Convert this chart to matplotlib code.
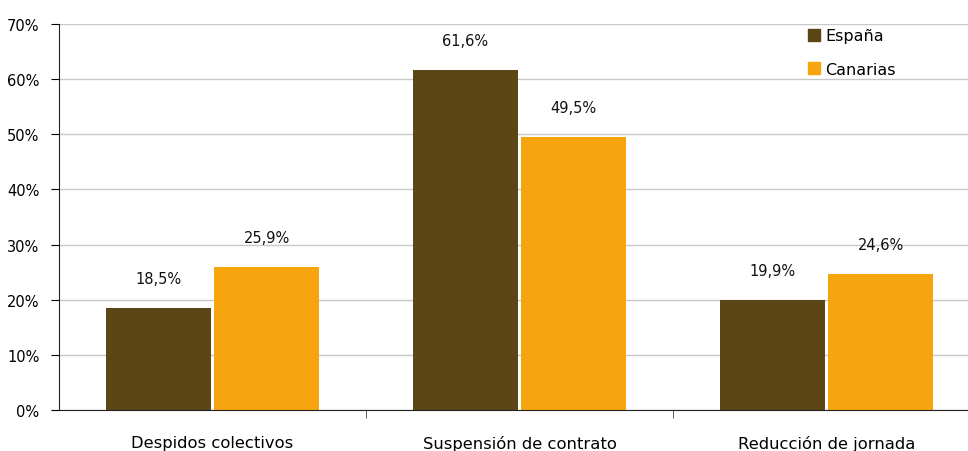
import matplotlib
matplotlib.use("Agg")
import matplotlib.pyplot as plt
from matplotlib.patches import Patch
import numpy as np

categories = ["Despidos colectivos", "Suspensión de contrato", "Reducción de jornada"]
espana = [18.5, 61.6, 19.9]
canarias = [25.9, 49.5, 24.6]
series_names = ["España", "Canarias"]
colors = ["#5C4616", "#F6A50E"]

plt.rcParams['font.family'] = ['DejaVu Sans']
fig = plt.figure(figsize=(9.68, 4.52), dpi=100)
ax = fig.add_axes([59/968, 1-411/452, (980-59)/968, 386/452])

x = np.arange(len(categories))
w = 0.34
gap = 0.006
b1 = ax.bar(x - w/2 - gap, espana, w, color=colors[0])
b2 = ax.bar(x + w/2 + gap, canarias, w, color=colors[1])

for bars, vals in ((b1, espana), (b2, canarias)):
    for r, v in zip(bars, vals):
        ax.annotate(f"{v:.1f}%".replace(".", ","), (r.get_x()+r.get_width()/2, v),
                    xytext=(0, 16), textcoords="offset points", ha="center", va="bottom",
                    fontsize=10.5, color="#111111")

ax.set_xlim(-0.5, 2.5)
ax.set_ylim(0, 70)
ax.set_yticks(range(0, 71, 10))
ax.set_yticklabels([f"{t}%" for t in range(0, 71, 10)], fontsize=10.5)
ax.yaxis.grid(True, color="#C8C8C8", linewidth=1)
ax.set_axisbelow(True)
ax.set_xticks(x)
ax.set_xticklabels(categories, fontsize=11.8)
ax.tick_params(axis="x", length=0, pad=18)
ax.set_xticks([0.5, 1.5, 2.5], minor=True)
ax.tick_params(axis="x", which="minor", length=6, color="#444444")
ax.tick_params(axis="y", length=6, pad=8)
for s in ["top", "right"]:
    ax.spines[s].set_visible(False)
ax.spines["left"].set_color("#222222")
ax.spines["bottom"].set_color("#222222")

handles = [Patch(color=c) for c in colors]
ax.legend(handles, series_names, loc="upper left", bbox_to_anchor=((797-59)/921, 1.018),
          frameon=False, fontsize=11.5, handlelength=0.75, handleheight=0.75,
          handletextpad=0.3, labelspacing=1.15, borderaxespad=0.3)

fig.savefig("out.png", dpi=100)
